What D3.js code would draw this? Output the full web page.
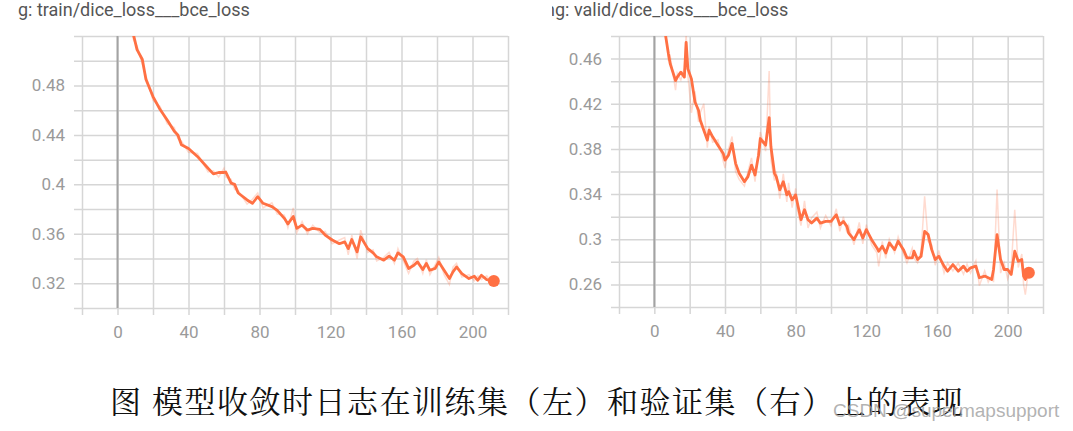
<!DOCTYPE html>
<html>
<head>
<meta charset="utf-8">
<script src="https://cdn.jsdelivr.net/npm/d3@7"></script>
<style>
  body { margin: 0; background: #fff; }
  svg { display: block; }
  .grid line { stroke: #d6d6d6; stroke-width: 1.5; }
  .grid text { fill: #9a9a9a; font-family: Roboto, "Noto Sans", sans-serif; font-size: 17px; }
</style>
</head>
<body>
<svg id="chart" width="1073" height="431"></svg>
<script>
// training run, smoothed + raw values
const trainStep = [0,3,6,9,11,14,16,20,24,28,32,34,36,40,45,51,54,57,60,61,64,66,68,73,76,79,82,87,90,94,96,99,101,104,107,110,114,117,121,125,128,130,132,135,137,141,144,146,150,153,156,158,161,164,167,169,172,174,176,179,181,184,187,189,191,194,198,201,203,205,208,212];
const trainSmooth = [0.590,0.562,0.537,0.521,0.509,0.501,0.485,0.471,0.4605,0.452,0.443,0.440,0.432,0.429,0.4226,0.413,0.4085,0.4096,0.4096,0.410,0.401,0.400,0.393,0.3874,0.3847,0.390,0.3847,0.382,0.379,0.3725,0.368,0.374,0.3644,0.367,0.363,0.3644,0.3636,0.359,0.355,0.352,0.3535,0.348,0.3554,0.3454,0.3576,0.348,0.3446,0.3414,0.3387,0.342,0.3387,0.3446,0.3414,0.332,0.3346,0.3373,0.3311,0.336,0.3305,0.332,0.3373,0.3305,0.3238,0.3292,0.3332,0.3278,0.3238,0.3257,0.3224,0.3265,0.323,0.3219];
const trainRaw = [0.595,0.558,0.541,0.517,0.512,0.497,0.488,0.468,0.463,0.449,0.446,0.437,0.435,0.426,0.425,0.410,0.411,0.406,0.413,0.406,0.404,0.396,0.395,0.384,0.388,0.393,0.381,0.385,0.376,0.375,0.365,0.381,0.361,0.370,0.360,0.367,0.361,0.362,0.352,0.355,0.357,0.343,0.359,0.340,0.363,0.345,0.347,0.338,0.341,0.345,0.336,0.348,0.338,0.328,0.338,0.340,0.328,0.339,0.327,0.335,0.341,0.327,0.319,0.333,0.336,0.325,0.327,0.322,0.326,0.323,0.326,0.318];

// validation run, right panel
const validStep = [0,3,6,8,9,12,13,15,17,18,19,21,23,25,26,28,30,31,33,36,39,40,42,44,46,48,51,53,55,57,59,60,63,65,66,68,69,71,73,75,76,78,80,81,83,85,87,89,92,94,97,100,103,105,107,109,110,113,116,118,120,123,126,127,129,131,133,136,138,141,143,146,147,149,151,153,155,157,159,161,164,166,169,172,175,177,179,182,184,187,189,191,192,194,196,198,200,202,204,206,208,209,210,212];
const validSmooth = [0.545,0.515,0.484,0.464,0.4553,0.4406,0.4436,0.448,0.4436,0.4744,0.4509,0.442,0.4215,0.4142,0.4054,0.3966,0.3878,0.3966,0.3907,0.3833,0.376,0.3701,0.3745,0.3848,0.3672,0.3584,0.351,0.3555,0.3657,0.3569,0.3745,0.3892,0.3833,0.4077,0.3819,0.3584,0.3555,0.3437,0.351,0.3393,0.3422,0.3349,0.3393,0.3319,0.3173,0.3261,0.3173,0.3143,0.3187,0.3143,0.3158,0.3158,0.3217,0.3129,0.3158,0.3114,0.3055,0.2996,0.3085,0.3011,0.3085,0.2996,0.2923,0.2894,0.2938,0.2879,0.2967,0.2908,0.2982,0.2908,0.2835,0.2835,0.2894,0.282,0.285,0.307,0.3041,0.2908,0.282,0.285,0.2762,0.2717,0.2776,0.2717,0.2762,0.2717,0.2747,0.2762,0.2659,0.2674,0.2659,0.2644,0.2732,0.3041,0.282,0.2732,0.2732,0.2688,0.2894,0.2806,0.282,0.2674,0.2644,0.2703];
const validRaw = [0.55,0.51,0.49,0.458,0.462,0.432,0.447,0.441,0.452,0.482,0.445,0.412,0.431,0.404,0.412,0.42,0.381,0.40,0.386,0.388,0.369,0.363,0.38,0.391,0.36,0.353,0.347,0.36,0.372,0.351,0.38,0.395,0.378,0.449,0.37,0.352,0.36,0.336,0.358,0.333,0.35,0.328,0.345,0.326,0.312,0.334,0.31,0.319,0.324,0.31,0.321,0.312,0.327,0.307,0.32,0.306,0.312,0.295,0.315,0.296,0.313,0.295,0.288,0.276,0.298,0.283,0.30,0.288,0.302,0.287,0.279,0.292,0.283,0.279,0.29,0.338,0.298,0.295,0.277,0.29,0.27,0.279,0.272,0.279,0.269,0.278,0.27,0.281,0.259,0.272,0.262,0.268,0.262,0.344,0.27,0.279,0.265,0.275,0.326,0.275,0.287,0.26,0.251,0.275];

// axes
const xDomain = [-20, 220];
const xGridTicks = d3.range(-20, 221, 20);
const xLabels = [0, 40, 80, 120, 160, 200];
const trainYDomain = [0.30, 0.52];
const trainYLabels = [0.32, 0.36, 0.4, 0.44, 0.48];
const validYDomain = [0.24, 0.48];
const validYLabels = [0.26, 0.3, 0.34, 0.38, 0.42, 0.46];

const lineColor = "#ff7043";
let svg = d3.select("svg#chart");

function drawPanel(p) {
  let x = d3.scaleLinear().domain(xDomain).range([p.left, p.left + p.w]);
  let y = d3.scaleLinear().domain(p.yDomain).range([p.top + p.h, p.top]);
  let yTicks = d3.range(Math.round(p.yDomain[0] * 50), Math.round(p.yDomain[1] * 50) + 1).map(k => k / 50);
  const isLabel = (list, v) => list.some(l => Math.abs(l - v) < 1e-6);

  // horizontal gridlines, with a little tick sticking out to the left
  svg.append("g").attr("class", "grid")
    .attr("transform", "translate(" + (p.left - 8) + ",0)")
    .call(d3.axisLeft(y).tickValues(yTicks).tickSizeInner(-(p.w + 8)).tickSizeOuter(0).tickPadding(9)
      .tickFormat(v => isLabel(p.yLabels, v) ? d3.format("~g")(+v.toFixed(2)) : ""))
    .call(g => g.select(".domain").remove());

  // vertical gridlines
  svg.append("g").attr("class", "grid")
    .attr("transform", "translate(0," + (p.top + p.h + 7) + ")")
    .call(d3.axisBottom(x).tickValues(xGridTicks).tickSizeInner(-(p.h + 7)).tickSizeOuter(0).tickPadding(11)
      .tickFormat(v => xLabels.includes(v) ? v : ""))
    .call(g => g.select(".domain").remove());

  // step 0 line
  svg.append("line")
    .attr("x1", x(0)).attr("x2", x(0))
    .attr("y1", p.top).attr("y2", p.top + p.h)
    .attr("stroke", "#a3a3a3").attr("stroke-width", 2);

  let clipId = "clip-" + p.name;
  svg.append("clipPath").attr("id", clipId)
    .append("rect").attr("x", p.left).attr("y", p.top).attr("width", p.w).attr("height", p.h);

  let plot = svg.append("g").attr("clip-path", "url(#" + clipId + ")");
  let line = d3.line().x(d => x(d[0])).y(d => y(d[1]));

  plot.append("path")
    .datum(p.steps.map((s, i) => [s, p.raw[i]]))
    .attr("d", line).attr("fill", "none")
    .attr("stroke", lineColor).attr("stroke-opacity", 0.25).attr("stroke-width", 1.5);

  plot.append("path")
    .datum(p.steps.map((s, i) => [s, p.smooth[i]]))
    .attr("d", line).attr("fill", "none")
    .attr("stroke", lineColor).attr("stroke-width", 2.8).attr("stroke-linejoin", "round");

  let last = p.steps.length - 1;
  svg.append("circle")
    .attr("cx", x(p.steps[last])).attr("cy", y(p.smooth[last])).attr("r", 6)
    .attr("fill", lineColor);

  // title (the panel header is cut off on the left in the screenshot)
  let tClip = "tclip-" + p.name;
  svg.append("clipPath").attr("id", tClip)
    .append("rect").attr("x", p.titleClip).attr("y", 0).attr("width", 520).attr("height", 30);
  let tg = svg.append("g").attr("clip-path", "url(#" + tClip + ")")
    .style("font-family", "Roboto, 'Noto Sans', sans-serif").style("font-size", "18px").style("fill", "#555");
  tg.append("text").attr("x", p.titleX).attr("y", 16).attr("text-anchor", "end").text("n");
  tg.append("text").attr("x", p.titleX).attr("y", 16).text(p.title);
}

drawPanel({ name: "train", left: 82, top: 36, w: 426, h: 272,
  yDomain: trainYDomain, yLabels: trainYLabels,
  steps: trainStep, smooth: trainSmooth, raw: trainRaw,
  title: "g: train/dice_loss___bce_loss", titleX: 18, titleClip: 18 });

drawPanel({ name: "valid", left: 619, top: 36, w: 424, h: 271,
  yDomain: validYDomain, yLabels: validYLabels,
  steps: validStep, smooth: validSmooth, raw: validRaw,
  title: "g: valid/dice_loss___bce_loss", titleX: 555, titleClip: 552 });

// caption
svg.append("text")
  .attr("x", 110).attr("y", 413)
  .style("font-family", "'Noto Serif CJK SC', 'Noto Sans CJK SC', serif")
  .style("font-size", "31px").style("letter-spacing", "1.5px").style("fill", "#111")
  .text("图 模型收敛时日志在训练集（左）和验证集（右）上的表现");

// watermark
svg.append("text")
  .attr("x", 833).attr("y", 417)
  .style("font-family", "'Liberation Sans', Arial, sans-serif")
  .style("font-size", "19px").style("fill", "#9e9e9e").style("fill-opacity", 0.8)
  .text("CSDN @supermapsupport");
</script>
</body>
</html>
